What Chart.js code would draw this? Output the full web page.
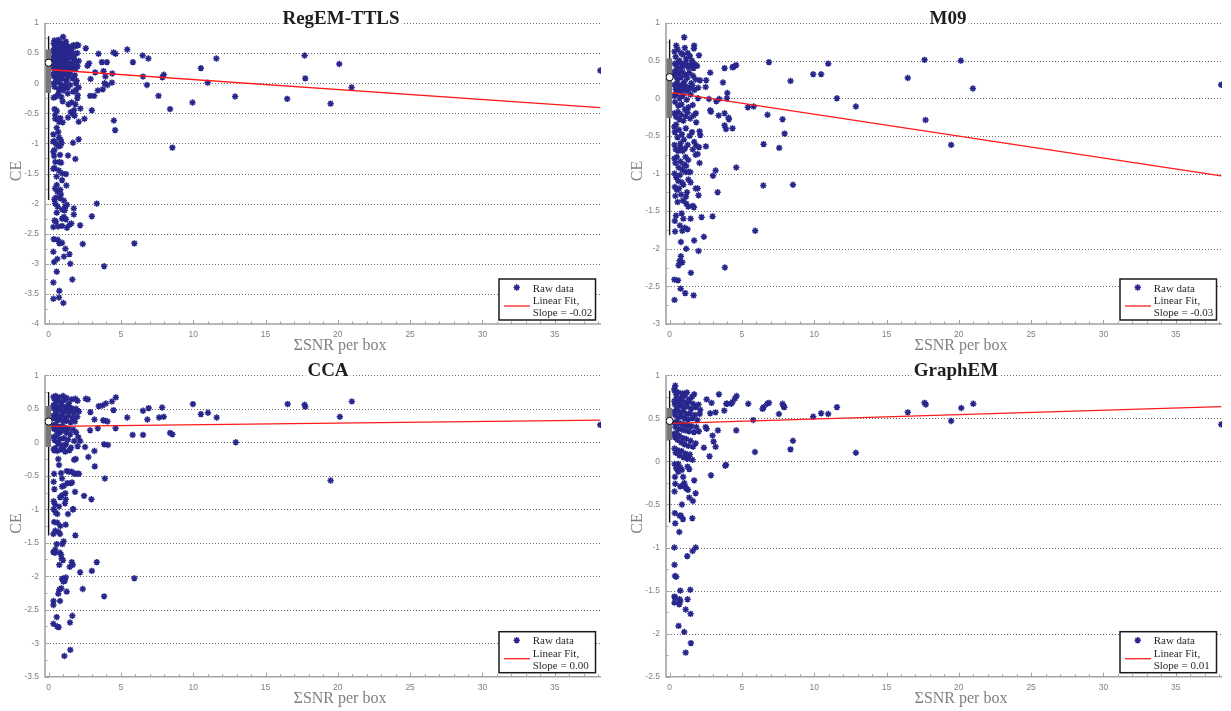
<!DOCTYPE html>
<html>
<head>
<meta charset="utf-8">
<script src="https://cdn.jsdelivr.net/npm/chart.js@4.4.0/dist/chart.umd.min.js"></script>
<style>
  html, body { margin: 0; padding: 0; background: #fff; }
  body { width: 1231px; height: 711px; position: relative; overflow: hidden; }
  canvas { position: absolute; }
</style>
</head>
<body>
<canvas id="c1" width="615" height="355" style="left:0;top:0"></canvas>
<canvas id="c2" width="616" height="355" style="left:615px;top:0"></canvas>
<canvas id="c3" width="615" height="356" style="left:0;top:355px"></canvas>
<canvas id="c4" width="616" height="356" style="left:615px;top:355px"></canvas>
<script>
// [SNR per box, CE] for each reconstruction method
const regemPts = [
  [2.57,0.58],[3.45,0.49],[5.44,0.56],[4.49,0.51],[4.63,0.49],[5.83,0.35],[6.5,0.46],[6.9,0.41],[6.53,0.11],[6.8,-0.03],
  [7.87,0.10],[7.96,0.14],[7.6,-0.21],[8.4,-0.43],[8.56,-1.07],[9.95,-0.32],[10.53,0.25],[11.0,0.01],[11.6,0.41],[12.9,-0.22],
  [16.5,-0.26],[17.7,0.46],[17.75,0.08],[19.5,-0.34],[20.1,0.32],[20.95,-0.07],[38.15,0.21],
  [3.22,0.18],[3.33,-2.0],[2.99,-2.21],[2.36,-2.67],[3.84,-3.04],[5.93,-2.66],[4.51,-0.62],[4.6,-0.78],[2.99,-0.45],
  [2.48,-0.59],[2.87,-0.21],[3.15,-0.21],[3.4,-0.12],[3.75,-0.1],[3.87,0.0],[4.07,-0.03],[4.38,0.01],[4.4,0.16],[3.8,0.2],
  [3.93,0.11],[3.68,0.35],[4.03,0.35],[2.8,0.33],[2.9,0.07],[2.69,0.29],[2.08,0.37],[2.08,-0.64],[2.2,-0.42],[2.08,-0.93],
  [1.69,-0.99],[1.85,-1.26],[1.34,-1.2],[1.2,-1.51],[1.23,-1.7],[1.74,-2.08],[1.74,-2.18],[1.57,-2.33],[2.18,-2.36],[1.44,-2.84],
  [1.5,-3.0],[1.64,-3.26],[1.16,-2.75],[1.06,-2.88],[0.63,-2.6],[0.93,-2.65],[0.74,-2.66],[0.36,-2.59],[0.33,-2.8],[0.38,-2.97],
  [0.6,-2.92],[0.56,-3.13],[0.33,-3.31],[0.74,-3.45],[0.72,-3.56],[0.33,-3.58],[1.02,-3.65],[1.27,-2.4],[0.93,-2.37],[0.65,-2.38],
  [0.33,-2.39],[0.41,-2.28],[1.06,-2.22],[0.93,-2.25],[1.2,-2.26],[0.95,-2.1],[1.11,-2.11],[1.16,-2.05],[1.27,-2.02],[0.56,-2.15],
  [0.4,-1.93],[0.51,-1.9],[0.81,-1.91],[0.46,-2.0],[0.6,-1.8],[0.56,-1.69],[0.81,-1.77],[0.93,-1.61],[0.41,-1.41],[0.33,-1.42],
  [0.46,-1.31],[0.74,-1.31],[0.86,-1.32],[0.38,-1.21],[0.79,-1.19],[0.4,-1.11],[0.33,-1.14],[0.69,-1.05],[0.81,-1.04],[0.51,-1.01],
  [0.32,-0.97],[0.41,-0.96],[0.83,-0.94],[0.72,-0.9],[0.9,-0.99],[0.33,-0.85],[0.67,-0.81],[0.56,-0.74],[0.72,-0.64],[0.81,-0.58],
  [0.46,-0.59],[0.41,-0.43],[0.56,-0.46],[0.45,-0.53],[0.97,-0.65],[1.34,-0.57],[1.53,-0.48],[1.37,-0.35],[1.6,-0.32],[1.76,-0.45],
  [1.8,-0.54],[1.69,-0.51],[1.85,-0.35],[1.99,-0.25],[2.01,-0.2],[1.9,-0.11],[2.08,-0.07],[0.97,-0.3],[0.88,-0.23],[0.51,-0.22],
  [0.35,-0.24],[0.67,-0.18],[1.02,-0.09],[0.9,-0.07],[1.32,-0.17],[1.25,0.03],[0.45,-1.75],[0.62,-2.05],[0.85,-1.85],[1.05,-1.95],
  [0.5,-2.3],[1.45,-2.35],[0.7,-1.45],[0.55,-1.55],[0.95,-1.5],
  [0.35,0.66],[0.4,0.71],[0.45,0.62],[0.52,0.69],[0.6,0.64],[0.68,0.72],[0.75,0.6],[0.84,0.67],[0.92,0.63],[1.0,0.77],
  [1.06,0.66],[1.12,0.6],[1.2,0.69],[1.28,0.62],[1.38,0.58],[1.52,0.6],[1.7,0.63],[1.83,0.61],[1.95,0.64],[2.05,0.63],
  [0.33,0.55],[0.38,0.5],[0.42,0.57],[0.5,0.52],[0.58,0.56],[0.66,0.48],[0.73,0.54],[0.82,0.5],[0.9,0.57],[0.98,0.47],
  [1.08,0.53],[1.17,0.49],[1.25,0.56],[1.36,0.51],[1.47,0.47],[1.6,0.53],[1.78,0.46],[1.98,0.5],
  [0.33,0.42],[0.36,0.38],[0.4,0.45],[0.47,0.36],[0.55,0.41],[0.63,0.38],[0.7,0.44],[0.79,0.35],[0.87,0.42],[0.95,0.37],
  [1.03,0.43],[1.11,0.34],[1.22,0.4],[1.33,0.36],[1.44,0.43],[1.58,0.33],[1.72,0.4],[1.9,0.36],
  [0.34,0.29],[0.38,0.25],[0.44,0.31],[0.53,0.24],[0.61,0.3],[0.71,0.22],[0.8,0.28],[0.89,0.2],[0.97,0.27],[1.07,0.23],
  [1.16,0.3],[1.27,0.21],[1.4,0.27],[1.55,0.23],[1.68,0.29],[1.86,0.24],[2.0,0.28],
  [0.33,0.15],[0.37,0.11],[0.43,0.18],[0.52,0.09],[0.62,0.14],[0.74,0.06],[0.85,0.13],[0.96,0.08],[1.09,0.15],[1.21,0.05],
  [1.35,0.12],[1.49,0.17],[1.64,0.08],[1.81,0.13],[1.94,0.04],
  [0.35,0.0],[0.41,-0.06],[0.57,0.02],[0.69,-0.1],[0.83,-0.02],[1.0,-0.12],[1.14,-0.04],[1.31,-0.08],[1.5,-0.03],[1.7,-0.14],[1.88,0.0]
];

const m09Pts = [
  [1.01,0.81],[0.46,0.7],[1.7,0.7],[1.68,0.66],[2.03,0.57],[2.81,0.34],[3.8,0.4],[4.42,0.42],[4.6,0.44],[4.35,0.41],
  [6.87,0.48],[8.36,0.23],[9.93,0.32],[10.48,0.32],[10.97,0.46],[11.57,0.0],[12.88,-0.11],[17.63,0.51],[17.7,-0.29],[16.47,0.27],
  [19.47,-0.62],[20.14,0.5],[20.97,0.13],[38.14,0.18],
  [5.41,-0.12],[5.81,-0.11],[6.77,-0.22],[7.81,-0.28],[7.95,-0.47],[7.58,-0.66],[6.5,-0.61],[6.48,-1.16],[8.53,-1.15],[5.92,-1.76],
  [4.61,-0.92],[3.82,-2.25],[4.1,-0.28],[4.35,-0.4],[3.8,-0.36],[3.9,-0.41],[3.8,-0.2],[4.08,-0.26],[3.39,-0.23],[3.99,0.07],
  [3.96,0.0],[3.43,-0.01],[3.23,-0.04],[3.69,0.21],[2.81,-0.16],[2.86,-0.18],[2.72,-0.01],[2.53,0.24],[2.49,0.15],[2.1,0.24],
  [3.0,-1.03],[3.18,-0.96],[3.32,-1.25],[2.97,-1.57],[2.21,-1.58],[2.37,-1.84],[2.0,-2.03],[1.7,-1.89],[1.47,-2.32],[1.66,-2.62],
  [1.08,-2.59],[0.76,-2.53],[0.34,-2.68],[0.33,-2.41],[0.58,-2.42],[0.78,-2.1],[0.69,-2.16],[0.88,-2.18],[0.62,-2.22],[1.15,-2.0],
  [0.78,-1.91],[0.38,-1.77],[0.71,-1.69],[1.04,-1.72],[1.24,-1.74],[0.88,-1.76],[0.44,-1.56],[0.36,-1.63],[0.83,-1.53],[0.95,-1.6],
  [1.45,-1.6],[1.68,-1.45],[1.61,-1.43],[2.0,-1.29],[1.94,-1.2],[1.8,-1.2],[1.2,-1.25],[1.13,-1.31],[0.92,-1.36],[1.15,-1.4],
  [1.29,-1.44],[1.31,-0.98],[1.43,-0.98],[1.1,-0.98],[1.29,-0.82],[1.1,-0.78],[1.8,-0.75],[1.94,-0.74],[1.84,-0.63],[2.03,-0.65],
  [2.51,-0.64],[2.07,-0.86],[2.12,-0.49],[2.07,-0.44],[1.82,-0.2],[1.84,-0.32],[1.96,0.0],[1.98,0.14],[1.38,0.15],
  [0.34,0.62],[0.42,0.55],[0.55,0.65],[0.68,0.5],[0.8,0.6],[0.92,0.58],[1.05,0.67],[1.15,0.52],[1.25,0.6],[1.4,0.56],
  [1.55,0.5],[1.75,0.45],[0.36,0.46],[0.5,0.42],[0.6,0.48],[0.75,0.4],[0.88,0.45],[1.0,0.43],[1.12,0.47],[1.3,0.41],
  [1.45,0.44],[1.65,0.4],[1.9,0.43],
  [0.33,0.35],[0.37,0.3],[0.45,0.37],[0.55,0.25],[0.65,0.33],[0.78,0.28],[0.9,0.35],[1.02,0.22],[1.1,0.31],[1.22,0.27],
  [1.35,0.34],[1.5,0.2],[1.62,0.3],[1.8,0.25],[0.34,0.18],[0.42,0.12],[0.52,0.2],[0.63,0.15],[0.72,0.1],[0.85,0.18],
  [0.97,0.12],[1.08,0.16],[1.2,0.1],[1.4,0.13],[1.58,0.17],[1.72,0.11],
  [0.33,0.03],[0.38,-0.05],[0.48,0.06],[0.6,-0.1],[0.7,0.0],[0.82,-0.08],[0.93,0.04],[1.05,-0.15],[1.18,-0.02],[1.3,-0.12],
  [1.45,0.05],[1.6,-0.09],[0.34,-0.2],[0.45,-0.25],[0.58,-0.18],[0.68,-0.28],[0.8,-0.22],[0.95,-0.3],[1.1,-0.24],[1.25,-0.19],
  [1.42,-0.27],[1.65,-0.23],
  [0.33,-0.38],[0.36,-0.45],[0.45,-0.35],[0.55,-0.52],[0.65,-0.42],[0.75,-0.6],[0.85,-0.48],[0.98,-0.55],[1.12,-0.4],[1.25,-0.62],
  [1.38,-0.5],[1.55,-0.45],[1.7,-0.58],[0.34,-0.62],[0.42,-0.68],[0.58,-0.7],[0.72,-0.65],[0.9,-0.7],[1.05,-0.67],[1.6,-0.68],
  [0.33,-0.8],[0.4,-0.86],[0.5,-0.78],[0.62,-0.92],[0.75,-0.84],[0.88,-0.95],[1.0,-0.88],[1.15,-0.9],[0.34,-1.0],[0.45,-1.05],
  [0.6,-1.1],[0.72,-1.02],[0.85,-1.12],[0.36,-1.18],[0.5,-1.22],[0.65,-1.2],[0.8,-1.28],[0.95,-1.15],[0.4,-1.3],[0.55,-1.38],
  [1.3,-1.08],[1.45,-1.12]
];

const ccaPts = [
  [2.57,0.65],[4.65,0.67],[4.38,0.61],[3.96,0.58],[3.73,0.55],[3.47,0.54],[4.49,0.48],[2.89,0.45],[2.01,0.47],[2.71,0.64],
  [5.44,0.37],[6.92,0.51],[6.53,0.47],[6.83,0.34],[7.85,0.52],[7.64,0.37],[7.96,0.38],[8.4,0.14],[8.56,0.12],[5.81,0.11],
  [6.53,0.11],[9.98,0.57],[10.53,0.42],[11.02,0.44],[11.62,0.37],[12.94,0.0],[16.53,0.57],[17.7,0.56],[17.75,0.53],
  [19.5,-0.57],[20.14,0.38],[20.97,0.61],[38.15,0.26],
  [3.17,0.34],[3.77,0.33],[3.94,0.32],[4.07,0.31],[4.63,0.21],[3.4,0.21],[2.87,0.18],[3.84,-0.03],[4.1,-0.04],[3.17,-0.13],
  [2.52,-0.07],[2.75,-0.22],[3.19,-0.36],[3.89,-0.54],[2.45,-0.8],[2.96,-0.85],[1.83,-0.74],[1.78,-0.47],[1.83,-0.47],[1.99,-0.47],
  [2.1,-0.47],[1.88,-0.25],[1.76,-0.26],[2.18,0.02],[2.01,-0.06],[1.67,-1.0],[1.71,-1.0],[1.85,-1.39],[1.34,-1.07],[1.18,-1.23],
  [1.6,-1.79],[1.67,-1.83],[1.46,-1.86],[2.18,-1.94],[2.99,-1.92],[3.33,-1.79],[2.36,-2.19],[3.84,-2.3],[5.93,-2.03],[1.64,-2.59],
  [1.48,-2.69],[1.5,-3.1],[1.09,-3.19],[0.69,-2.76],[0.6,-2.75],[0.56,-2.61],[0.33,-2.71],[0.33,-2.43],[0.34,-2.37],[0.79,-2.37],
  [0.67,-2.26],[0.74,-2.2],[0.88,-2.18],[1.25,-2.23],[1.02,-2.08],[0.93,-2.04],[1.11,-2.07],[1.18,-2.02],[0.99,-2.04],[0.74,-1.83],
  [0.9,-1.74],[0.99,-1.76],[0.79,-1.65],[0.86,-1.68],[0.33,-1.64],[0.44,-1.65],[0.56,-1.52],[0.46,-1.6],[0.95,-1.52],[1.04,-1.48],
  [0.79,-1.37],[0.69,-1.34],[0.33,-1.37],[0.46,-1.32],[0.38,-1.19],[0.6,-1.2],[0.81,-1.25],[0.49,-1.05],[0.6,-1.07],[0.35,-1.0],
  [0.72,-0.96],[1.13,-0.91],[1.18,-0.85],[0.79,-0.82],[0.93,-0.79],[1.16,-0.76],[0.35,-0.88],[0.44,-0.93],[0.4,-0.7],[0.35,-0.59],
  [0.93,-0.66],[1.06,-0.65],[1.3,-0.61],[1.53,-0.61],[1.62,-0.6],[0.93,-0.54],[0.86,-0.46],[1.25,-0.43],[1.41,-0.44],[1.6,-0.44],
  [0.38,-0.47],[0.72,-0.34],[0.67,-0.25],[0.38,-0.12],[0.46,-0.09],[1.02,-0.08],[0.67,-0.01],
  [0.34,0.68],[0.4,0.65],[0.5,0.69],[0.62,0.62],[0.75,0.67],[0.9,0.6],[1.0,0.69],[1.12,0.63],[1.25,0.66],[1.4,0.58],
  [1.6,0.64],[1.85,0.65],[2.0,0.62],
  [0.33,0.55],[0.37,0.5],[0.45,0.57],[0.55,0.47],[0.65,0.53],[0.78,0.49],[0.88,0.55],[0.98,0.45],[1.08,0.52],[1.2,0.47],
  [1.32,0.54],[1.45,0.46],[1.58,0.51],[1.75,0.44],[1.9,0.5],[2.1,0.46],
  [0.34,0.4],[0.4,0.36],[0.5,0.42],[0.6,0.33],[0.7,0.39],[0.82,0.34],[0.92,0.41],[1.02,0.31],[1.14,0.37],[1.26,0.32],
  [1.38,0.4],[1.52,0.3],[1.66,0.36],[1.82,0.31],[1.98,0.38],
  [0.33,0.25],[0.38,0.2],[0.48,0.27],[0.58,0.17],[0.68,0.23],[0.8,0.15],[0.9,0.24],[1.0,0.18],[1.12,0.22],[1.24,0.14],
  [1.36,0.2],[1.5,0.12],[1.7,0.19],[1.9,0.15],
  [0.34,0.08],[0.42,0.03],[0.55,0.1],[0.66,-0.02],[0.78,0.05],[0.92,-0.05],[1.05,0.06],[1.2,-0.03],[1.35,0.04],[1.55,-0.08],
  [1.78,0.02],[2.05,0.08],[0.36,-0.1],[0.6,-0.13],[0.85,-0.11],[1.15,-0.14],[1.45,-0.12]
];

const graphemPts = [
  [0.39,0.88],[0.33,0.84],[2.56,0.72],[2.9,0.68],[3.41,0.78],[3.92,0.67],[3.99,0.67],[4.26,0.67],[4.63,0.76],[4.52,0.73],
  [4.35,0.69],[5.44,0.67],[6.43,0.61],[6.5,0.63],[6.75,0.67],[6.87,0.68],[7.81,0.67],[7.88,0.64],[7.93,0.63],[7.56,0.55],
  [5.78,0.48],[5.9,0.11],[8.36,0.14],[8.53,0.24],[9.93,0.52],[10.48,0.56],[10.97,0.55],[11.57,0.63],[12.88,0.1],[16.47,0.57],
  [17.63,0.68],[17.72,0.66],[19.47,0.47],[20.17,0.62],[21.0,0.67],[38.15,0.43],
  [3.34,0.36],[4.61,0.36],[2.97,0.3],[3.04,0.23],[3.18,0.17],[2.76,0.06],[2.86,-0.16],[3.85,-0.05],[3.9,-0.04],[2.56,0.38],
  [2.49,0.4],[3.18,0.57],[2.81,0.56],[3.78,0.59],[2.37,0.16],[1.7,-0.22],[1.8,-0.37],[1.61,-0.46],[1.36,-0.42],[1.27,-0.33],
  [1.57,-0.66],[0.85,-0.5],[0.92,-0.67],[0.69,-0.63],[0.78,-0.63],[0.67,-0.82],[0.36,-0.6],[0.39,-0.72],[0.33,-1.0],[1.8,-1.0],
  [1.59,-1.04],[1.22,-1.1],[0.34,-1.2],[0.37,-1.33],[0.46,-1.34],[1.43,-1.49],[0.74,-1.5],[0.33,-1.57],[0.38,-1.58],[0.34,-1.64],
  [0.69,-1.6],[0.74,-1.62],[0.67,-1.66],[1.24,-1.6],[1.11,-1.72],[1.45,-1.77],[0.62,-1.91],[1.01,-1.98],[1.47,-2.11],[1.11,-2.22],
  [0.34,-0.35],[0.39,-0.26],[0.37,-0.18],[0.6,-0.12],[0.85,-0.1],[0.94,-0.18],[1.01,-0.25],[1.08,-0.29],[1.13,-0.31],[0.74,-0.29],
  [0.92,-0.28],[0.6,-0.03],[0.74,-0.07],[1.24,-0.06],[1.36,-0.09],[1.17,0.04],[1.31,0.06],
  [0.35,0.82],[0.45,0.78],[0.6,0.8],[0.75,0.74],[0.9,0.79],[1.05,0.76],[1.2,0.8],[1.35,0.72],[1.55,0.75],[1.7,0.78],
  [0.33,0.7],[0.37,0.66],[0.45,0.72],[0.55,0.63],[0.65,0.69],[0.78,0.65],[0.88,0.71],[0.98,0.62],[1.1,0.68],[1.22,0.64],
  [1.34,0.7],[1.48,0.61],[1.62,0.67],[1.8,0.63],[2.0,0.66],[2.12,0.6],
  [0.34,0.58],[0.38,0.54],[0.48,0.6],[0.58,0.51],[0.7,0.57],[0.82,0.52],[0.93,0.58],[1.04,0.5],[1.16,0.55],[1.28,0.49],
  [1.42,0.56],[1.58,0.5],[1.75,0.54],[1.92,0.48],[2.08,0.55],
  [0.35,0.45],[0.4,0.4],[0.52,0.46],[0.62,0.38],[0.74,0.44],[0.86,0.37],[0.97,0.43],[1.08,0.36],[1.2,0.42],[1.33,0.35],
  [1.5,0.41],[1.68,0.34],[1.85,0.4],[2.02,0.35],
  [0.33,0.32],[0.37,0.28],[0.45,0.33],[0.55,0.25],[0.67,0.3],[0.8,0.22],[0.92,0.27],[1.03,0.2],[1.15,0.26],[1.3,0.18],
  [1.45,0.24],[1.62,0.17],[1.8,0.21],
  [0.34,0.15],[0.42,0.1],[0.55,0.13],[0.68,0.07],[0.82,0.12],[0.95,0.05],[1.1,0.09],[1.25,0.03],[1.4,0.08],[1.58,0.02],
  [0.35,-0.03],[0.45,-0.08]
];

const titles = ['RegEM-TTLS', 'M09', 'CCA', 'GraphEM'];
const xTicks = [0, 5, 10, 15, 20, 25, 30, 35];
const yTicksRegem = [1, 0.5, 0, -0.5, -1, -1.5, -2, -2.5, -3, -3.5, -4];
const yTicksM09 = [1, 0.5, 0, -0.5, -1, -1.5, -2, -2.5, -3];
const yTicksCca = [1, 0.5, 0, -0.5, -1, -1.5, -2, -2.5, -3, -3.5];
const yTicksGraphem = [1, 0.5, 0, -0.5, -1, -1.5, -2, -2.5];

// linear fit per method
const fitIntercept = [0.226, 0.079, 0.238, 0.442];
const fitSlope = [-0.0166, -0.0291, 0.0024, 0.0051];
const fitRange = [0.15, 38.15];

// box-plot summary of CE per method
const boxLow = [-1.94, -1.82, -1.39, -0.71];
const boxQ1 = [-0.16, -0.26, -0.07, 0.25];
const boxMedian = [0.34, 0.28, 0.31, 0.47];
const boxQ3 = [0.56, 0.53, 0.54, 0.62];
const boxHigh = [0.78, 0.78, 0.75, 0.82];

const NAVY = 'rgb(38,38,140)';
const GREY = '#808080';
const AXIS = '#a3a3a3';

Chart.defaults.font.family = '"Liberation Sans", Arial, sans-serif';

// MATLAB-like axes: dotted y grid, grey left/bottom lines, inward ticks
const axesPlugin = {
  id: 'matAxes',
  beforeDatasetsDraw(chart) {
    const { ctx, chartArea: a, scales: { x, y } } = chart;
    ctx.save();
    ctx.strokeStyle = '#6a6a6a';
    ctx.lineWidth = 1;
    ctx.setLineDash([1, 2]);
    y.ticks.forEach(t => {
      if (t.value <= y.min) return;
      const py = Math.round(y.getPixelForValue(t.value)) + 0.5;
      ctx.beginPath();
      ctx.moveTo(a.left + 2, py);
      ctx.lineTo(a.right, py);
      ctx.stroke();
    });
    ctx.setLineDash([]);

    ctx.strokeStyle = AXIS;
    ctx.lineWidth = 1;
    for (let v = y.min; v <= y.max + 1e-9; v += 0.25) {
      const py = Math.round(y.getPixelForValue(v)) + 0.5;
      const len = Math.abs(v * 2 - Math.round(v * 2)) < 1e-6 ? 4 : 2.5;
      ctx.beginPath();
      ctx.moveTo(a.left, py);
      ctx.lineTo(a.left + len, py);
      ctx.stroke();
    }
    for (let v = 0; v <= x.max; v += 1) {
      const px = Math.round(x.getPixelForValue(v)) + 0.5;
      const len = v % 5 === 0 ? 4 : 2.5;
      ctx.beginPath();
      ctx.moveTo(px, a.bottom);
      ctx.lineTo(px, a.bottom - len);
      ctx.stroke();
    }

    ctx.lineWidth = 1.6;
    ctx.beginPath();
    ctx.moveTo(a.left, a.top);
    ctx.lineTo(a.left, a.bottom);
    ctx.lineTo(a.right, a.bottom);
    ctx.stroke();
    ctx.restore();
  }
};

// title, axis labels and legend box
const decorPlugin = {
  id: 'decor',
  afterDatasetsDraw(chart, args, o) {
    const { ctx, chartArea: a } = chart;
    ctx.save();

    ctx.font = 'bold 19px "Liberation Serif", "Times New Roman", serif';
    ctx.textAlign = 'center';
    ctx.textBaseline = 'alphabetic';
    const tw = ctx.measureText(o.title).width;
    ctx.fillStyle = '#fff';
    ctx.fillRect(o.titleX - tw / 2 - 2, a.top - 16, tw + 4, 20);
    ctx.fillStyle = '#1e1e1e';
    ctx.fillText(o.title, o.titleX, a.top + 0.5);

    ctx.font = '16px "Liberation Serif", "Times New Roman", serif';
    ctx.fillStyle = GREY;
    ctx.fillText('ΣSNR per box', (a.left + a.right) / 2 + 17, a.bottom + 26);
    ctx.save();
    ctx.translate(a.left - 24, (a.top + a.bottom) / 2 - 2.5);
    ctx.rotate(-Math.PI / 2);
    ctx.fillText('CE', 0, 0);
    ctx.restore();

    // legend
    const bx = a.right - 102, by = a.bottom - 45, bw = 96.5, bh = 41;
    ctx.fillStyle = '#fff';
    ctx.fillRect(bx, by, bw, bh);
    ctx.strokeStyle = '#1a1a1a';
    ctx.lineWidth = 1.5;
    ctx.strokeRect(bx, by, bw, bh);
    ctx.strokeStyle = NAVY;
    Chart.helpers.drawPoint(ctx, { pointStyle: 'star', radius: 3.2, borderWidth: 1.5, rotation: 0 }, bx + 17.7, by + 8.5);
    ctx.strokeStyle = '#ff2020';
    ctx.lineWidth = 1.3;
    ctx.beginPath();
    ctx.moveTo(bx + 5, by + 27);
    ctx.lineTo(bx + 31, by + 27);
    ctx.stroke();
    ctx.font = '11px "Liberation Serif", "Times New Roman", serif';
    ctx.fillStyle = '#2a2a2a';
    ctx.textAlign = 'left';
    ctx.fillText('Raw data', bx + 33.7, by + 12.5);
    ctx.fillText('Linear Fit,', bx + 33.7, by + 25);
    ctx.fillText('Slope = ' + o.slope.toFixed(2), bx + 33.7, by + 37.3);
    ctx.restore();
  }
};

const layouts = [
  { id: 'c1', pts: regemPts, yTicks: yTicksRegem, yAxisW: 45, padTop: 23, padRight: 14, xAxisH: 31, titleX: 341 },
  { id: 'c2', pts: m09Pts, yTicks: yTicksM09, yAxisW: 51, padTop: 23, padRight: 9, xAxisH: 31, titleX: 333 },
  { id: 'c3', pts: ccaPts, yTicks: yTicksCca, yAxisW: 45, padTop: 20.3, padRight: 14, xAxisH: 34.3, titleX: 328 },
  { id: 'c4', pts: graphemPts, yTicks: yTicksGraphem, yAxisW: 51, padTop: 20.3, padRight: 9, xAxisH: 34.3, titleX: 341 }
];

layouts.forEach((p, i) => {
  const yMin = Math.min(...p.yTicks), yMax = Math.max(...p.yTicks);
  const fitLine = fitRange.map(v => ({ x: v, y: fitIntercept[i] + fitSlope[i] * v }));
  new Chart(document.getElementById(p.id), {
    type: 'scatter',
    data: {
      datasets: [
        {
          label: 'median', order: 0,
          data: [{ x: 0, y: boxMedian[i] }],
          pointStyle: 'circle', pointRadius: 3.6, pointBackgroundColor: '#fff',
          pointBorderColor: '#000', pointBorderWidth: 1
        },
        {
          label: 'box', order: 1, showLine: true,
          data: [{ x: -0.02, y: boxQ1[i] }, { x: -0.02, y: boxQ3[i] }],
          borderColor: '#777', borderWidth: 5.5, borderCapStyle: 'butt', pointRadius: 0
        },
        {
          label: 'whisker', order: 2, showLine: true,
          data: [{ x: 0, y: boxLow[i] }, { x: 0, y: boxHigh[i] }],
          borderColor: '#111', borderWidth: 1.4, pointRadius: 0
        },
        {
          label: 'Linear Fit', order: 3, showLine: true,
          data: fitLine, borderColor: '#ff1a1a', borderWidth: 1.3, pointRadius: 0
        },
        {
          label: 'Raw data', order: 4,
          data: p.pts.map(d => ({ x: d[0], y: d[1] })),
          pointStyle: 'star', pointRadius: 3.2, pointBorderWidth: 1.5,
          pointBorderColor: NAVY, pointBackgroundColor: NAVY
        }
      ]
    },
    options: {
      responsive: false,
      animation: false,
      events: [],
      layout: { padding: { top: p.padTop, right: p.padRight, left: 0, bottom: 0 } },
      plugins: {
        legend: { display: false },
        tooltip: { enabled: false },
        decor: { title: titles[i], titleX: p.titleX, slope: fitSlope[i] }
      },
      scales: {
        x: {
          type: 'linear', min: -0.25, max: 38.2,
          grid: { display: false, drawTicks: false },
          border: { display: false },
          ticks: { color: GREY, font: { size: 8.5 }, padding: 6, maxRotation: 0, autoSkip: false },
          afterBuildTicks: s => { s.ticks = xTicks.map(v => ({ value: v })); },
          afterFit: s => { s.height = p.xAxisH; }
        },
        y: {
          type: 'linear', min: yMin, max: yMax,
          grid: { display: false, drawTicks: false },
          border: { display: false },
          ticks: { color: GREY, font: { size: 8.5 }, padding: 6, autoSkip: false, callback: v => String(v) },
          afterBuildTicks: s => { s.ticks = p.yTicks.map(v => ({ value: v })); },
          afterFit: s => { s.width = p.yAxisW; }
        }
      }
    },
    plugins: [axesPlugin, decorPlugin]
  });
});
</script>
</body>
</html>
